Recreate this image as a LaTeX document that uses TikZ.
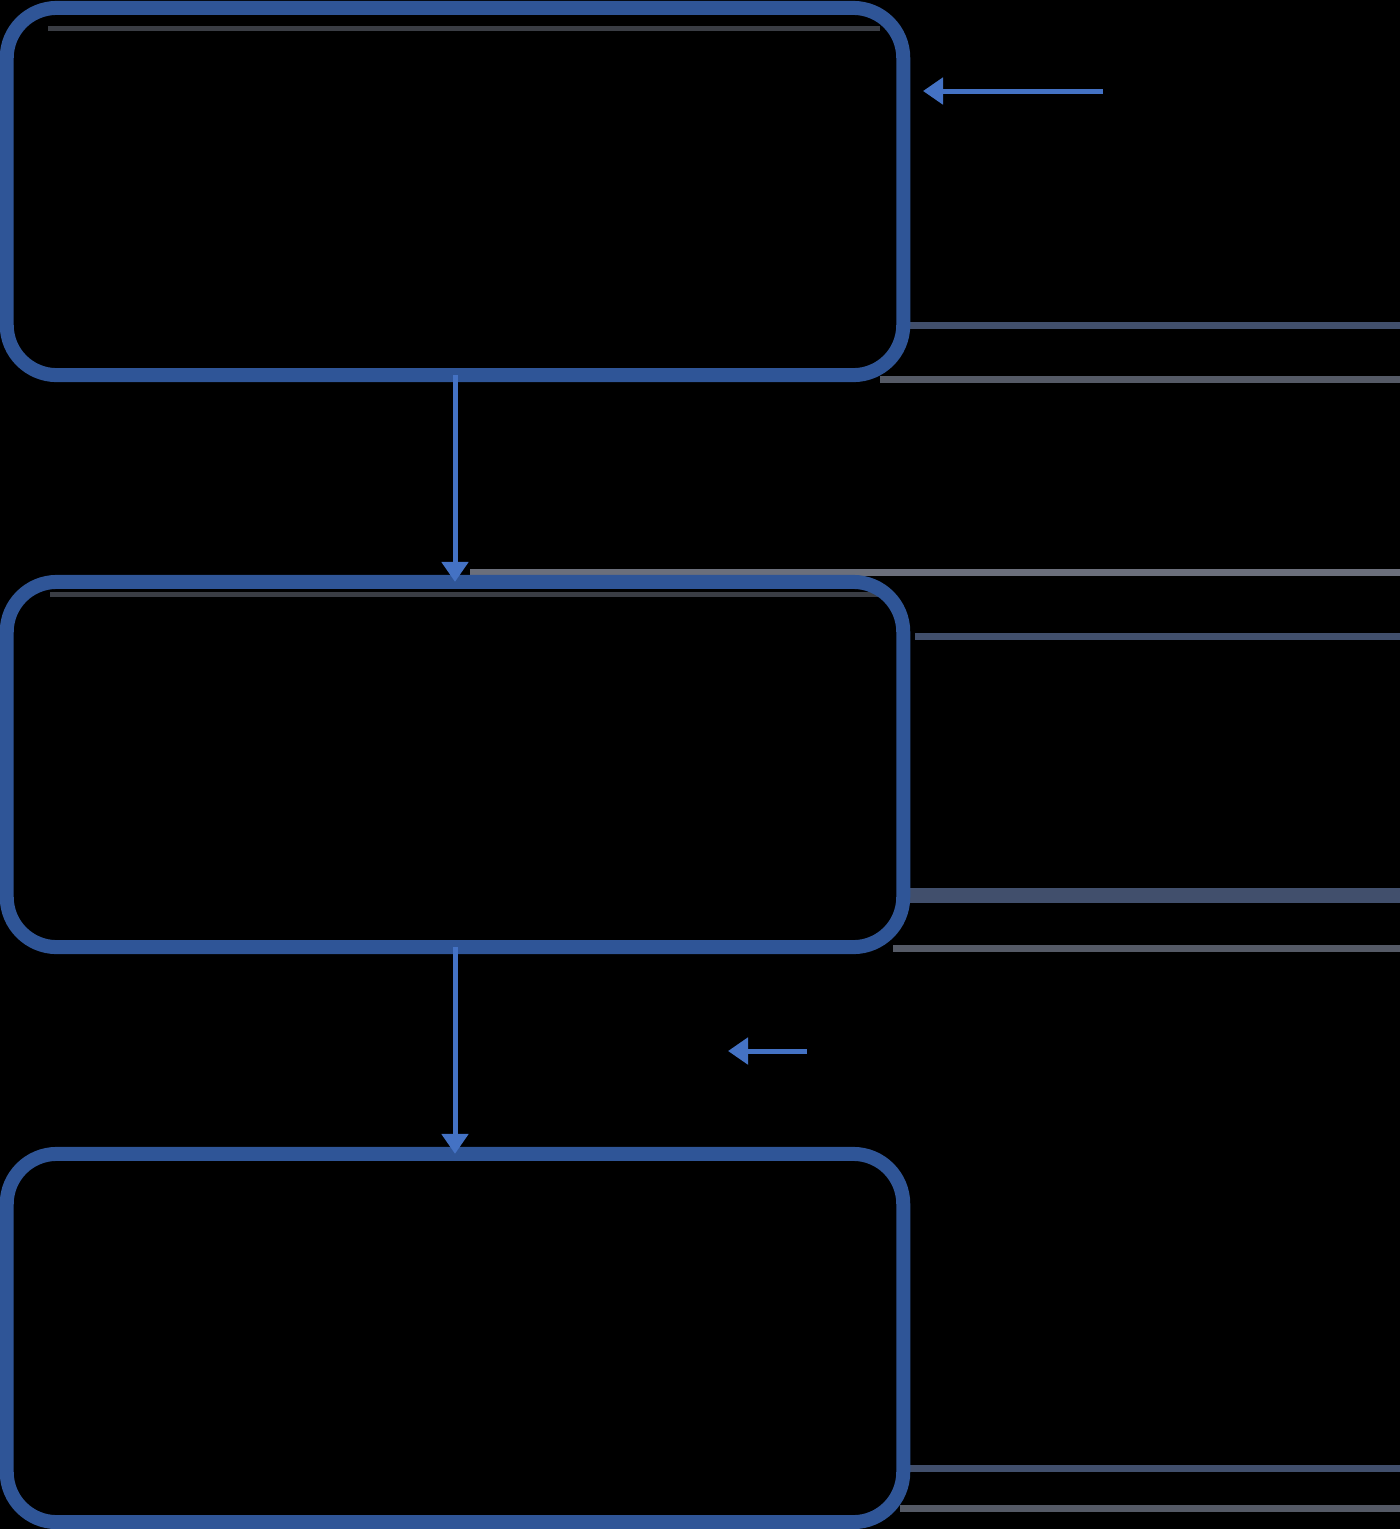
\documentclass[tikz,border=0pt]{standalone}
\usetikzlibrary{arrows.meta}
\definecolor{boxblue}{HTML}{2F5597}
\definecolor{arrblue}{HTML}{4472C4}
\definecolor{gA}{HTML}{555A66}
\definecolor{gB}{HTML}{414F6C}
\definecolor{gC}{HTML}{6B6F7B}
\definecolor{gD}{HTML}{3A3D44}
\tikzset{
  stagebox/.style={draw=boxblue, line width=0.14cm, rounded corners=0.5cm,
    minimum width=8.96cm, inner sep=0pt, outer sep=0pt},
  flowarrow/.style={draw=arrblue, line width=0.05cm,
    -{Triangle[length=0.2cm,width=0.26cm]}},
  ghostline/.style={line width=0.07cm},
}
\begin{document}
\begin{tikzpicture}[x=0.01cm,y=-0.01cm]
\useasboundingbox (0,0) rectangle (1400,1529);
\fill[black] (0,0) rectangle (1400,1529);
% faint gray lines visible in the picture
\draw[line width=0.05cm, gD] (48,28) -- (880,28);
\draw[ghostline, gB] (910,325) -- (1400,325);
\draw[ghostline, gA] (880,379) -- (1400,379);
\draw[ghostline, gC] (470,572) -- (1400,572);
\draw[line width=0.05cm, gD] (50,594) -- (890,594);
\draw[ghostline, gB] (915,636) -- (1400,636);
\draw[line width=0.15cm, gB] (910,895) -- (1400,895);
\draw[ghostline, gA] (893,948) -- (1400,948);
\draw[ghostline, gB] (910,1468) -- (1400,1468);
\draw[ghostline, gA] (900,1508) -- (1400,1508);
% boxes
\node[stagebox, minimum height=3.67cm] (b1) at (455,191.5) {};
\node[stagebox, minimum height=3.65cm] (b2) at (455,764.5) {};
\node[stagebox, minimum height=3.68cm] (b3) at (455,1338) {};
% connectors
\draw[flowarrow] (b1.south) -- (b2.north);
\draw[flowarrow] (b2.south) -- (b3.north);
\coordinate (in1s) at (1103,91);
\coordinate (in1e) at (923,91);
\draw[flowarrow] (in1s) -- (in1e);
\coordinate (in2s) at (807,1051);
\coordinate (in2e) at (728,1051);
\draw[flowarrow] (in2s) -- (in2e);
\end{tikzpicture}
\end{document}
